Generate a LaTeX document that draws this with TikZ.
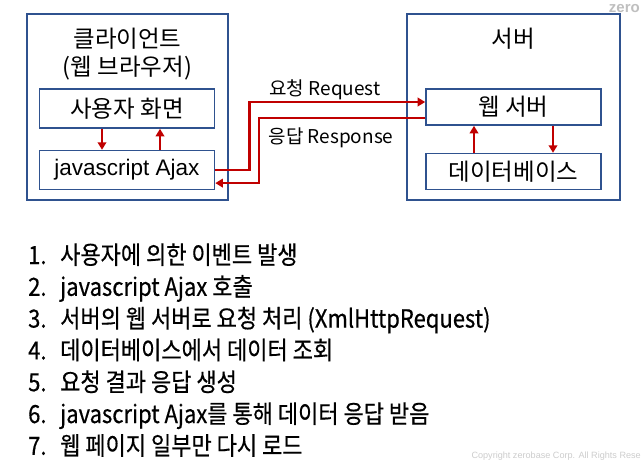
\documentclass[tikz,border=0pt]{standalone}
\usepackage{fontspec}
\setmainfont{Noto Sans CJK KR}
\newfontfamily\arialfont{Liberation Sans}
\newfontfamily\stepfont[FakeStretch=0.88, FakeBold=0.5]{Noto Sans CJK KR}
\usepackage{tikz}
\usetikzlibrary{arrows.meta,positioning,calc}
\definecolor{ajaxblue}{HTML}{2F528F}
\definecolor{ajaxred}{HTML}{C00000}
\definecolor{ajaxgrey}{HTML}{BFBFBF}
\tikzstyle{outer} = [rectangle, draw=ajaxblue, line width=1.6pt, inner sep=0pt]
\tikzstyle{block} = [rectangle, draw=ajaxblue, line width=1.6pt, inner sep=0pt,
    minimum width=175pt, font=\fontsize{23.5}{28}\selectfont]
\tikzstyle{arrow} = [-{Triangle[length=7.5pt,width=8.5pt]}, ajaxred, line width=2.4pt]
\tikzstyle{flowlabel} = [anchor=base, inner sep=0pt, font=\fontsize{19}{22}\selectfont]
\tikzstyle{listitem} = [anchor=base west, inner sep=0pt, font=\stepfont\fontsize{25}{30}\selectfont]

\begin{document}
\begin{tikzpicture}[x=1pt, y=-1pt]
\useasboundingbox (0,0) rectangle (642,469);
% client and server frames
\node[outer, minimum width=201pt, minimum height=186pt] (client) at (127.5,107) {};
\node[outer, minimum width=213pt, minimum height=186pt] (server) at (513.5,107) {};
\node[anchor=base, inner sep=0pt, font=\fontsize{23.5}{28}\selectfont] (clienttitle) at (127.5,47) {클라이언트};
\node[anchor=base, inner sep=0pt, font=\fontsize{23.5}{28}\selectfont] (clientsub) at (127.5,75) {(웹 브라우저)};
\node[anchor=base, inner sep=0pt, font=\fontsize{23.5}{28}\selectfont] (servertitle) at (513.5,47) {서버};

% inner boxes
\node[block, minimum height=39pt] (screen) at (127,108.5) {사용자 화면};
\node[block, minimum height=39pt, below=21pt of screen, font=\arialfont\fontsize{22.5}{26}\selectfont] (ajax) {javascript Ajax};
\node[block, minimum height=36pt] (web) at (513.5,107) {웹 서버};
\node[block, minimum height=36pt, below=27pt of web] (db) {데이터베이스};

% arrows inside the frames
\draw[arrow] ([xshift=-25pt]screen.south) -- ([xshift=-25pt]ajax.north);
\draw[arrow] ([xshift=33pt]ajax.north) -- ([xshift=33pt]screen.south);
\draw[arrow] ([xshift=-39.5pt]db.north) -- ([xshift=-39.5pt]web.south);
\draw[arrow] ([xshift=39.5pt]web.south) -- ([xshift=39.5pt]db.north);

% request / response
\draw[arrow] (ajax.east) -- ++(34,0) |- ([yshift=5pt]web.west);
\draw[arrow] ([yshift=-11pt]web.west) -- ++(-166,0) |- ([yshift=-13pt]ajax.east);
\node[flowlabel] (reqlabel) at (325,95) {요청 Request};
\node[flowlabel] (reslabel) at (331,143) {응답 Response};

% steps
\foreach \n/\t [count=\i] in {1/사용자에 의한 이벤트 발생,
    2/javascript Ajax 호출,
    3/서버의 웹 서버로 요청 처리 (XmlHttpRequest),
    4/데이터베이스에서 데이터 조회,
    5/요청 결과 응답 생성,
    6/javascript Ajax를 통해 데이터 응답 받음,
    7/웹 페이지 일부만 다시 로드} {
  \node[listitem] (num\i) at (28,{264+31.8*(\i-1)}) {\n.};
  \node[listitem] (item\i) at (60,{264+31.8*(\i-1)}) {\t};
}

% watermark
\node[anchor=north east, inner sep=0pt, text=ajaxgrey, font=\arialfont\bfseries\fontsize{15}{18}\selectfont] (logo) at (640,4) {zero};
\node[anchor=base east, inner sep=0pt, text=ajaxgrey!80, font=\arialfont\fontsize{9.1}{11}\selectfont] (copyright) at (641,458) {Copyright zerobase Corp. All Rights Rese};
\end{tikzpicture}
\end{document}
